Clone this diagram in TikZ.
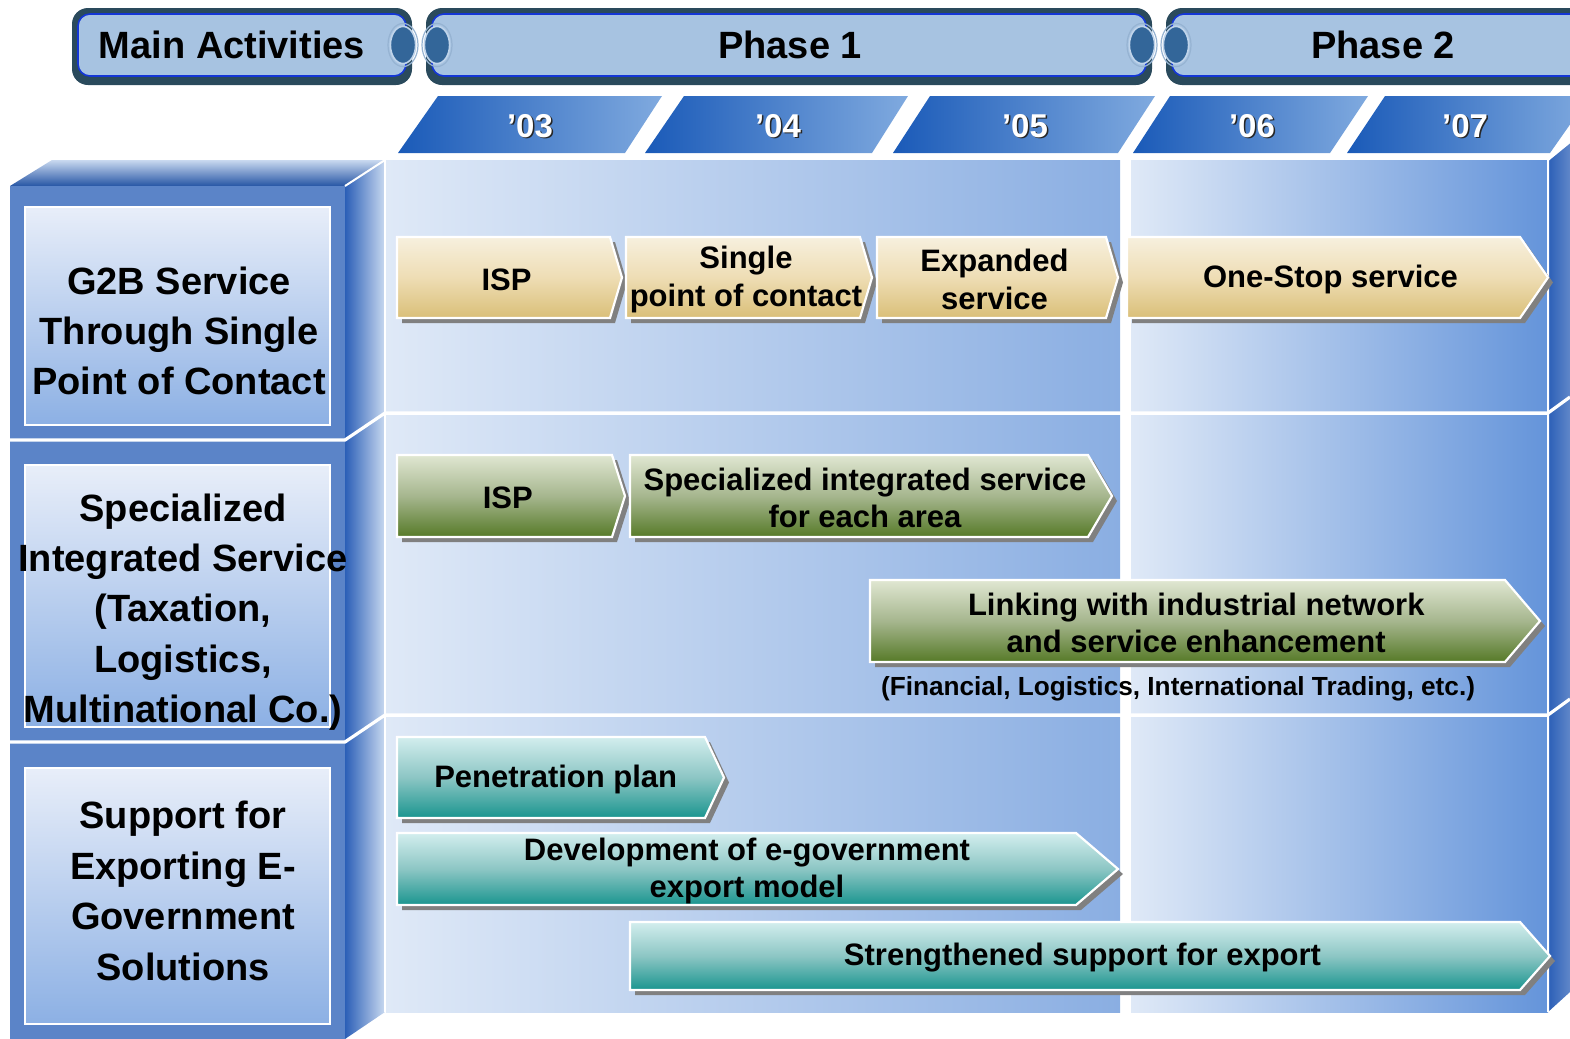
\documentclass[tikz,border=0pt]{standalone}
\usepackage{fontspec}
\setmainfont{Liberation Sans}
\usetikzlibrary{calc}
\definecolor{barouter}{HTML}{2A4A5C}
\definecolor{barin}{HTML}{A7C3E1}
\definecolor{barline}{HTML}{1436D6}
\definecolor{ringfill}{HTML}{336699}
\definecolor{ringline}{HTML}{C0D4EA}
\definecolor{colbox}{HTML}{5B84C8}
\definecolor{panelT}{HTML}{E8EEF9}
\definecolor{panelB}{HTML}{8CB0E4}
\definecolor{gridL}{HTML}{DFE9F7}
\definecolor{gridRa}{HTML}{8AAEE2}
\definecolor{gridRb}{HTML}{6494DA}
\definecolor{sideL}{HTML}{2B5FB7}
\definecolor{sideR}{HTML}{C9D9F0}
\definecolor{tabL}{HTML}{1A5AB8}
\definecolor{tabR}{HTML}{80AADF}
\definecolor{shadowgray}{HTML}{808080}
\definecolor{tanT}{HTML}{F7F0DE}
\definecolor{tanM}{HTML}{EEDDB4}
\definecolor{tanB}{HTML}{DABF78}
\definecolor{grnT}{HTML}{E0E7D2}
\definecolor{grnM}{HTML}{A6B68E}
\definecolor{grnB}{HTML}{567A28}
\definecolor{tealT}{HTML}{D3EEEE}
\definecolor{tealM}{HTML}{8CC6C4}
\definecolor{tealB}{HTML}{1A958F}
\newcommand\phasebar[2]{%
  \fill[barouter, rounded corners=8pt] (#1,8) rectangle (#2,85);
  \path[fill=barin, draw=barline, line width=0.8pt, rounded corners=6pt] ({#1+6},14) rectangle ({#2-6},76);
}
\newcommand\chev[8]{%
  \fill[shadowgray] ({#2+5},{#3+5}) -- ({#4+5},{#3+5}) -- ({#5+5},{(#3+#6)/2+5}) -- ({#4+5},{#6+5}) -- ({#2+5},{#6+5}) -- cycle;
  \path[#7, draw=white, line width=1.1pt] (#2,#3) -- (#4,#3) -- (#5,{(#3+#6)/2}) -- (#4,#6) -- (#2,#6) -- cycle;
  \node[arrtext] (#1) at ({(#2+#4)/2+(#5-#4)/4},{(#3+#6)/2+2}) {#8};
}
\newcommand\ring[1]{%
  \draw[ringline!70!ringfill, line width=0.6pt] (#1,45) ellipse [x radius=7.5pt, y radius=10.8pt];
  \draw[ringline, line width=0.8pt, fill=ringfill] (#1,45) ellipse [x radius=6.3pt, y radius=9.3pt];
}
\newcommand\yeartab[6]{%
  \shade[left color=tabL, right color=tabR] (#2,153) -- (#3,96) -- (#4,96) -- (#5,153) -- cycle;
  \node[yeartext, text=black!85] (#1s) at ({#6+1.5},{127.5}) {’#1};
  \node[yeartext, text=white] (#1) at (#6,126) {’#1};
}
\begin{document}
\begin{tikzpicture}[x=0.5pt,y=-0.5pt,
  hdtext/.style={font=\bfseries\fontsize{19}{23}\selectfont, inner sep=0},
  yeartext/.style={font=\bfseries\fontsize{16.5}{20}\selectfont, inner sep=0},
  lefttext/.style={font=\bfseries\fontsize{19}{25.2}\selectfont, align=center, inner sep=0},
  arrtext/.style={font=\bfseries\fontsize{15.5}{18.7}\selectfont, align=center, inner sep=0},
  notetext/.style={font=\bfseries\fontsize{13.1}{16}\selectfont, inner sep=0},
  tanfill/.style={top color=tanT, bottom color=tanB, middle color=tanM},
  grnfill/.style={top color=grnT, bottom color=grnB, middle color=grnM},
  tealfill/.style={top color=tealT, bottom color=tealB, middle color=tealM},
  panel/.style={top color=panelT, bottom color=panelB, draw=white, line width=1pt},
  divider/.style={draw=white, line width=1.6pt}
]
\useasboundingbox (0,0) rectangle (1570,1039);
% header bars
\phasebar{72}{412}
\phasebar{426}{1152}
\phasebar{1166}{1620}
\ring{403}\ring{437}\ring{1142}\ring{1176}
\node[hdtext] (hmain) at (232,45) {Main Activities};
\node[hdtext] (hp1) at (790,45) {Phase 1};
\node[hdtext] (hp2) at (1383,45) {Phase 2};
% year tabs
\yeartab{03}{398}{438}{662}{625}{530}
\yeartab{04}{645}{684}{908}{872}{778}
\yeartab{05}{893}{930}{1155}{1118}{1025}
\yeartab{06}{1133}{1170}{1368}{1330}{1252}
\yeartab{07}{1347}{1385}{1590}{1550}{1465}
% left column 3D box
\shade[top color=sideR, bottom color=sideL!90!black] (10,186) -- (52,160) -- (385,160) -- (345,186) -- cycle;
\shade[left color=sideL, right color=sideR] (345,186) -- (385,160) -- (385,1012) -- (345,1039) -- cycle;
\fill[colbox] (10,186) rectangle (345,1039);
\draw[white, line width=1pt] (345,186) -- (385,160);
% grid
\foreach \ya/\yb in {160/411,415/713,717/1012}{
  \shade[left color=gridL, right color=gridRa] (386,\ya) rectangle (1120,\yb);
  \shade[left color=gridL, right color=gridRb] (1131,\ya) rectangle (1548,\yb);
}
\shade[left color=sideL, right color=sideL!75!white] (1548,160) -- (1570,142) -- (1570,992) -- (1548,1012) -- cycle;
\draw[white, line width=1pt] (1548,1012) -- (1548,160) -- (1570,142);
\draw[white, line width=0.8pt] (385,160) -- (385,1012);
% row dividers
\draw[divider] (8,440) -- (345,440) -- (385,413) -- (1548,413) -- (1570,397);
\draw[divider] (8,742) -- (345,742) -- (385,715) -- (1548,715) -- (1570,699);
% left panels
\path[panel] (25,207) rectangle (330,425);
\path[panel] (25,465) rectangle (330,727);
\path[panel] (25,768) rectangle (330,1024);
\node[lefttext] (r1) at (179,331) {G2B Service\\Through Single\\Point of Contact};
\node[lefttext] (r2) at (183,612) {Specialized\\Integrated Service\\(Taxation,\\Logistics,\\Multinational Co.)};
\node[lefttext] (r3) at (183,891) {Support for\\Exporting E-\\Government\\Solutions};
% row 1 arrows
\chev{a1}{397}{237}{610}{622}{318}{tanfill}{ISP}
\chev{a2}{626}{237}{860}{872}{318}{tanfill}{Single\\point of contact}
\chev{a3}{877}{237}{1106}{1118}{318}{tanfill}{Expanded\\service}
\chev{a4}{1127}{237}{1520}{1548}{318}{tanfill}{One-Stop service}
% row 2 arrows
\chev{b1}{397}{455}{612}{625}{537}{grnfill}{ISP}
\chev{b2}{630}{455}{1088}{1112}{537}{grnfill}{Specialized integrated service\\for each area}
\chev{b3}{870}{580}{1505}{1540}{662}{grnfill}{Linking with industrial network\\and service enhancement}
\node[notetext] (note) at (1178,689) {(Financial, Logistics, International Trading, etc.)};
% row 3 arrows
\chev{c1}{397}{737}{705}{724}{818}{tealfill}{Penetration plan}
\chev{c2}{397}{833}{1076}{1118}{905}{tealfill}{Development of e-government\\export model}
\chev{c3}{630}{922}{1520}{1550}{990}{tealfill}{Strengthened support for export}
\end{tikzpicture}
\end{document}
